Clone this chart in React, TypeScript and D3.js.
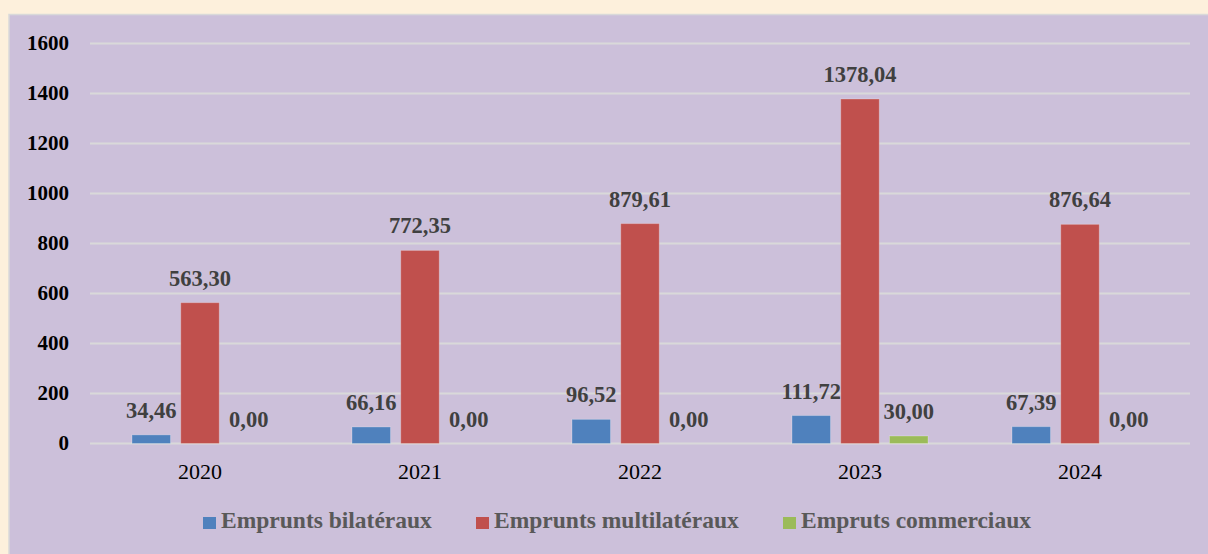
import React from "react";
import * as d3 from "d3";

const years = ["2020", "2021", "2022", "2023", "2024"];
const seriesNames = ["Emprunts bilatéraux", "Emprunts multilatéraux", "Empruts commerciaux"];
const bilateraux = [34.46, 66.16, 96.52, 111.72, 67.39];
const multilateraux = [563.3, 772.35, 879.61, 1378.04, 876.64];
const commerciaux = [0, 0, 0, 30.0, 0];
const yTicks = [0, 200, 400, 600, 800, 1000, 1200, 1400, 1600];
const colors = ["#4F81BD", "#C0504D", "#9BBB59"];

const W = 1208;
const H = 554;
const FONT = "'Liberation Serif', 'Times New Roman', serif";

export default function App() {
  const series = [bilateraux, multilateraux, commerciaux];
  const x0 = d3.scaleBand<string>().domain(years).range([90, 1190]).paddingInner(0).paddingOuter(0);
  const groupW = 136;
  const x1 = d3
    .scaleBand<number>()
    .domain([0, 1, 2])
    .range([0, groupW])
    .paddingInner(0.21)
    .paddingOuter(0);
  const y = d3.scaleLinear().domain([0, 1600]).range([443.5, 43.5]);
  const fmt = (v: number) => v.toFixed(2).replace(".", ",");

  const legendX = [203, 476, 783];

  return (
    <svg
      width={W}
      height={H}
      style={{ position: "absolute", left: 0, top: 0, display: "block" }}
      fontFamily={FONT}
    >
      <rect x={0} y={0} width={W} height={H} fill="#FDF0DC" />
      <rect x={9} y={14.5} width={1210} height={560} fill="#CCC0DA" stroke="#D9D9D9" strokeWidth={1.5} />
      {yTicks.map((t) => (
        <g key={t}>
          <line x1={90} x2={1190} y1={y(t)} y2={y(t)} stroke="#D9D9D9" strokeWidth={2} />
          <text x={69} y={y(t)} dy="0.33em" textAnchor="end" fontWeight="bold" fontSize={21} fill="#000">
            {t}
          </text>
        </g>
      ))}
      {years.map((yr, i) => {
        const gx = (x0(yr) as number) + (x0.bandwidth() - groupW) / 2;
        return (
          <g key={yr}>
            {series.map((s, k) => {
              const bx = gx + (x1(k) as number);
              const bw = x1.bandwidth();
              const v = s[i];
              return (
                <g key={k}>
                  <rect
                    x={bx}
                    y={y(v)}
                    width={bw}
                    height={y(0) - y(v)}
                    fill={colors[k]}
                    stroke="#ffffff"
                    strokeOpacity={0.25}
                    strokeWidth={1}
                  />
                  <text
                    x={bx + bw / 2}
                    y={y(v) - 17}
                    textAnchor="middle"
                    fontWeight="bold"
                    fontSize={22.5}
                    fill="#404040"
                  >
                    {fmt(v)}
                  </text>
                </g>
              );
            })}
            <text
              x={(x0(yr) as number) + x0.bandwidth() / 2}
              y={479}
              textAnchor="middle"
              fontSize={22}
              fill="#000"
            >
              {yr}
            </text>
          </g>
        );
      })}
      {seriesNames.map((n, k) => (
        <g key={n}>
          <rect x={legendX[k]} y={517} width={13} height={12} fill={colors[k]} />
          <text x={legendX[k] + 18} y={528} fontWeight="bold" fontSize={23.5} fill="#595959">
            {n}
          </text>
        </g>
      ))}
    </svg>
  );
}
